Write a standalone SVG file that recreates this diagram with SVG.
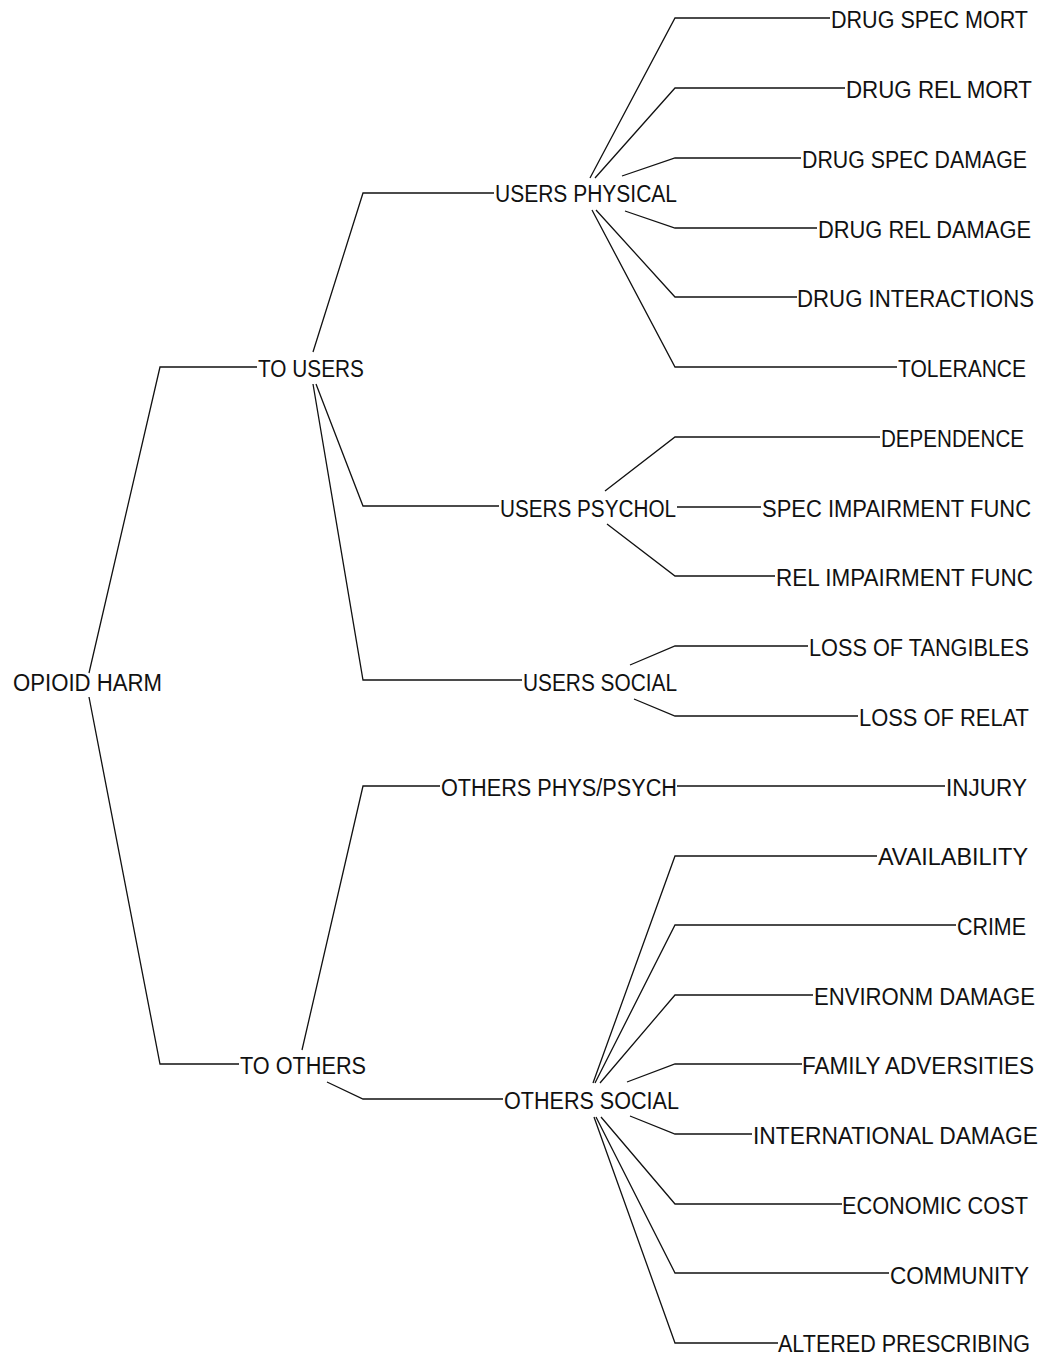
<svg xmlns="http://www.w3.org/2000/svg" width="1042" height="1358" viewBox="0 0 1042 1358">
<style>
text{font-family:"Liberation Sans",Arial,sans-serif;font-size:23px;fill:#111}
.c path{fill:none;stroke:#111;stroke-width:1.3}
</style>
<rect width="1042" height="1358" fill="#fff"/>
<g class="c" id="connectors">
<path d="M89,673 L160,367 L257,367"/>
<path d="M89,697 L160,1064 L239,1064"/>
<path d="M313,352 L363,193 L494,193"/>
<path d="M316,384 L363,506 L499,506"/>
<path d="M313,384 L363,680 L522,680"/>
<path d="M302,1050 L363,786 L440,786"/>
<path d="M327,1082 L363,1099 L503,1099"/>
<path d="M590,178 L675,18 L830,18"/>
<path d="M595,178 L675,88 L845,88"/>
<path d="M622,176 L675,158 L801,158"/>
<path d="M625,211 L675,228 L817,228"/>
<path d="M596,210 L675,297 L797,297"/>
<path d="M592,210 L675,367 L897,367"/>
<path d="M605,491 L675,437 L880,437"/>
<path d="M677,507 L761,507"/>
<path d="M607,524 L675,576 L775,576"/>
<path d="M630,665 L675,646 L808,646"/>
<path d="M634,699 L675,716 L858,716"/>
<path d="M677,786 L945,786"/>
<path d="M593,1083 L675,856 L877,856"/>
<path d="M595,1083 L675,925 L956,925"/>
<path d="M600,1083 L675,995 L813,995"/>
<path d="M627,1082 L675,1064 L802,1064"/>
<path d="M630,1116 L675,1134 L752,1134"/>
<path d="M601,1117 L675,1204 L842,1204"/>
<path d="M596,1117 L675,1273 L889,1273"/>
<path d="M594,1117 L675,1343 L778,1343"/>
</g>
<g id="n-opioid-harm"><text x="13" y="691" textLength="149" lengthAdjust="spacingAndGlyphs">OPIOID HARM</text></g>
<g id="n-to-users"><text x="258" y="377" textLength="106" lengthAdjust="spacingAndGlyphs">TO USERS</text></g>
<g id="n-to-others"><text x="240" y="1074" textLength="126" lengthAdjust="spacingAndGlyphs">TO OTHERS</text></g>
<g id="n-users-physical"><text x="495" y="202" textLength="182" lengthAdjust="spacingAndGlyphs">USERS PHYSICAL</text></g>
<g id="n-users-psychol"><text x="500" y="517" textLength="176" lengthAdjust="spacingAndGlyphs">USERS PSYCHOL</text></g>
<g id="n-users-social"><text x="523" y="691" textLength="154" lengthAdjust="spacingAndGlyphs">USERS SOCIAL</text></g>
<g id="n-others-physpsych"><text x="441" y="796" textLength="236" lengthAdjust="spacingAndGlyphs">OTHERS PHYS/PSYCH</text></g>
<g id="n-others-social"><text x="504" y="1109" textLength="175" lengthAdjust="spacingAndGlyphs">OTHERS SOCIAL</text></g>
<g id="n-drug-spec-mort"><text x="831" y="28" textLength="197" lengthAdjust="spacingAndGlyphs">DRUG SPEC MORT</text></g>
<g id="n-drug-rel-mort"><text x="846" y="98" textLength="186" lengthAdjust="spacingAndGlyphs">DRUG REL MORT</text></g>
<g id="n-drug-spec-damage"><text x="802" y="168" textLength="225" lengthAdjust="spacingAndGlyphs">DRUG SPEC DAMAGE</text></g>
<g id="n-drug-rel-damage"><text x="818" y="238" textLength="213" lengthAdjust="spacingAndGlyphs">DRUG REL DAMAGE</text></g>
<g id="n-drug-interactions"><text x="797" y="307" textLength="237" lengthAdjust="spacingAndGlyphs">DRUG INTERACTIONS</text></g>
<g id="n-tolerance"><text x="898" y="377" textLength="128" lengthAdjust="spacingAndGlyphs">TOLERANCE</text></g>
<g id="n-dependence"><text x="881" y="447" textLength="143" lengthAdjust="spacingAndGlyphs">DEPENDENCE</text></g>
<g id="n-spec-impairment-func"><text x="762" y="517" textLength="269" lengthAdjust="spacingAndGlyphs">SPEC IMPAIRMENT FUNC</text></g>
<g id="n-rel-impairment-func"><text x="776" y="586" textLength="257" lengthAdjust="spacingAndGlyphs">REL IMPAIRMENT FUNC</text></g>
<g id="n-loss-of-tangibles"><text x="809" y="656" textLength="220" lengthAdjust="spacingAndGlyphs">LOSS OF TANGIBLES</text></g>
<g id="n-loss-of-relat"><text x="859" y="726" textLength="170" lengthAdjust="spacingAndGlyphs">LOSS OF RELAT</text></g>
<g id="n-injury"><text x="946" y="796" textLength="81" lengthAdjust="spacingAndGlyphs">INJURY</text></g>
<g id="n-availability"><text x="878" y="865" textLength="150" lengthAdjust="spacingAndGlyphs">AVAILABILITY</text></g>
<g id="n-crime"><text x="957" y="935" textLength="69" lengthAdjust="spacingAndGlyphs">CRIME</text></g>
<g id="n-environm-damage"><text x="814" y="1005" textLength="221" lengthAdjust="spacingAndGlyphs">ENVIRONM DAMAGE</text></g>
<g id="n-family-adversities"><text x="802" y="1074" textLength="232" lengthAdjust="spacingAndGlyphs">FAMILY ADVERSITIES</text></g>
<g id="n-international-damage"><text x="753" y="1144" textLength="285" lengthAdjust="spacingAndGlyphs">INTERNATIONAL DAMAGE</text></g>
<g id="n-economic-cost"><text x="842" y="1214" textLength="186" lengthAdjust="spacingAndGlyphs">ECONOMIC COST</text></g>
<g id="n-community"><text x="890" y="1284" textLength="139" lengthAdjust="spacingAndGlyphs">COMMUNITY</text></g>
<g id="n-altered-prescribing"><text x="778" y="1352" textLength="252" lengthAdjust="spacingAndGlyphs">ALTERED PRESCRIBING</text></g>
</svg>
